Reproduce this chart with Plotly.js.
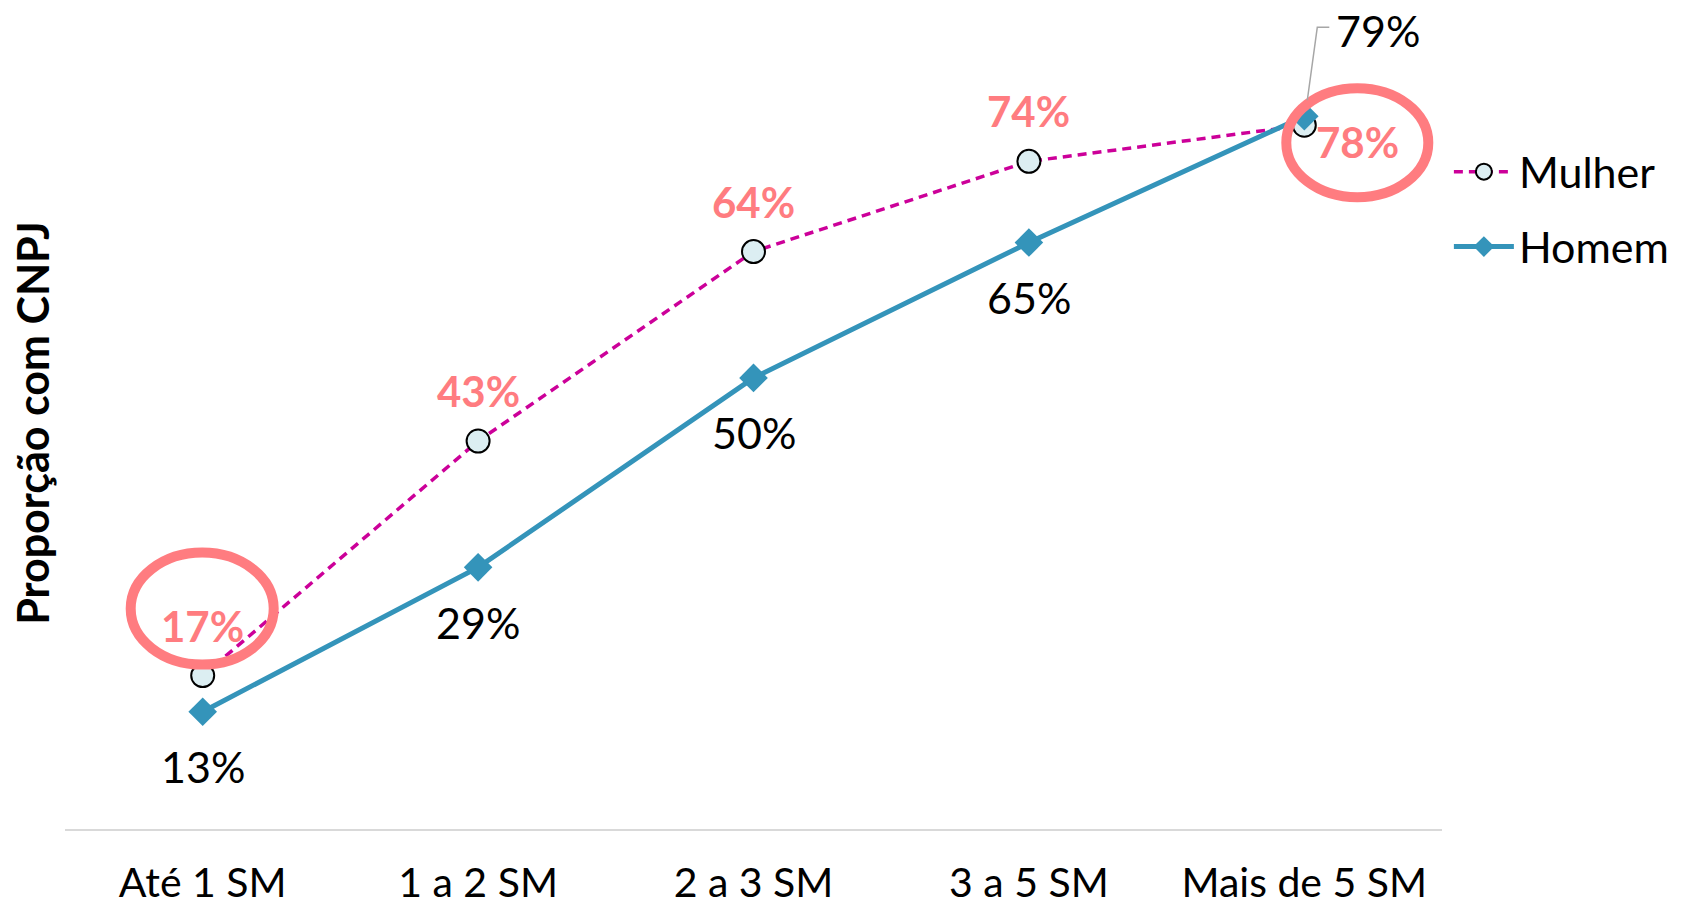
<!DOCTYPE html>
<html>
<head>
<meta charset="utf-8">
<script src="https://cdn.plot.ly/plotly-3.0.1.min.js"></script>
<style>html,body{margin:0;padding:0;background:#fff;}#chart{width:1681px;height:909px;}</style>
</head>
<body>
<div id="chart"></div>
<script>
const categories = ["Até 1 SM", "1 a 2 SM", "2 a 3 SM", "3 a 5 SM", "Mais de 5 SM"];
const mulher = [17, 43, 64, 74, 78];
const homem = [13, 29, 50, 65, 79];
const seriesNames = ["Mulher", "Homem"];
const yTitle = "Proporção com CNPJ";

const FONT = "Lato, 'Open Sans', sans-serif";
const PINK = "#ff7c80";
const MAGENTA = "#cc0099";
const BLUE = "#3494ba";

const traces = [
  {
    x: categories, y: mulher, name: seriesNames[0], type: "scatter", mode: "lines+markers",
    line: {color: MAGENTA, width: 3.5, dash: "9px,6px"},
    marker: {symbol: "circle", size: 23, color: "#dceef2", line: {color: "#000", width: 2}},
    legendgroup: "m", cliponaxis: false
  },
  {
    x: categories, y: homem, name: seriesNames[1], type: "scatter", mode: "lines+markers",
    line: {color: BLUE, width: 5},
    marker: {symbol: "diamond", size: 22, color: BLUE},
    legendgroup: "h", cliponaxis: false
  }
];

const annotations = [];
const last = categories.length - 1;
categories.forEach((c, i) => {
  const mShift = i === last ? {xshift: 53, yshift: -17} : {xshift: 0, yshift: 50};
  annotations.push({
    x: c, y: mulher[i], xref: "x", yref: "y", text: "<b>" + mulher[i] + "%</b>", showarrow: false,
    font: {family: FONT, size: 42, color: PINK}, xshift: mShift.xshift, yshift: mShift.yshift
  });
  const hShift = i === last ? {xshift: 74, yshift: 86} : {xshift: 0, yshift: -55};
  annotations.push({
    x: c, y: homem[i], xref: "x", yref: "y", text: homem[i] + "%", showarrow: false,
    font: {family: FONT, size: 43, color: "#000"}, xshift: hShift.xshift, yshift: hShift.yshift
  });
});

const shapes = [
  {type: "circle", xref: "x", yref: "y", xsizemode: "pixel", ysizemode: "pixel",
   xanchor: categories[0], yanchor: mulher[0], x0: -72, x1: 71, y0: 11, y1: 123,
   line: {color: PINK, width: 10}},
  {type: "circle", xref: "x", yref: "y", xsizemode: "pixel", ysizemode: "pixel",
   xanchor: categories[last], yanchor: mulher[last], x0: -18, x1: 124, y0: -72, y1: 37,
   line: {color: PINK, width: 10}},
  {type: "path", xref: "x", yref: "y", xsizemode: "pixel", ysizemode: "pixel",
   xanchor: categories[last], yanchor: homem[last], path: "M 3 16 L 13 89 L 25 89",
   line: {color: "#a6a6a6", width: 1.5}}
];

const layout = {
  width: 1681, height: 909,
  margin: {l: 65, r: 239, t: 17, b: 80, autoexpand: false},
  paper_bgcolor: "#fff", plot_bgcolor: "#fff",
  font: {family: FONT, size: 40, color: "#000"},
  showlegend: true,
  legend: {x: 1.005, xanchor: "left", y: 0.852, yanchor: "top", font: {family: FONT, size: 43, color: "#000"},
           traceorder: "grouped", tracegroupgap: 16, itemwidth: 60, bgcolor: "rgba(0,0,0,0)"},
  xaxis: {type: "category", range: [-0.5, 4.5], showline: true, linecolor: "#d9d9d9", linewidth: 2,
          showgrid: false, zeroline: false, ticks: "", ticklabelstandoff: 17, automargin: false,
          tickfont: {family: FONT, size: 41, color: "#000"}},
  yaxis: {range: [0, 90], showgrid: false, zeroline: false, showline: false, showticklabels: false, ticks: "",
          automargin: false,
          title: {text: "<b>" + yTitle + "</b>", standoff: 0, font: {family: FONT, size: 43, color: "#000"}}},
  annotations: annotations,
  shapes: shapes
};

Plotly.newPlot("chart", traces, layout, {displayModeBar: false, staticPlot: true});
</script>
</body>
</html>
